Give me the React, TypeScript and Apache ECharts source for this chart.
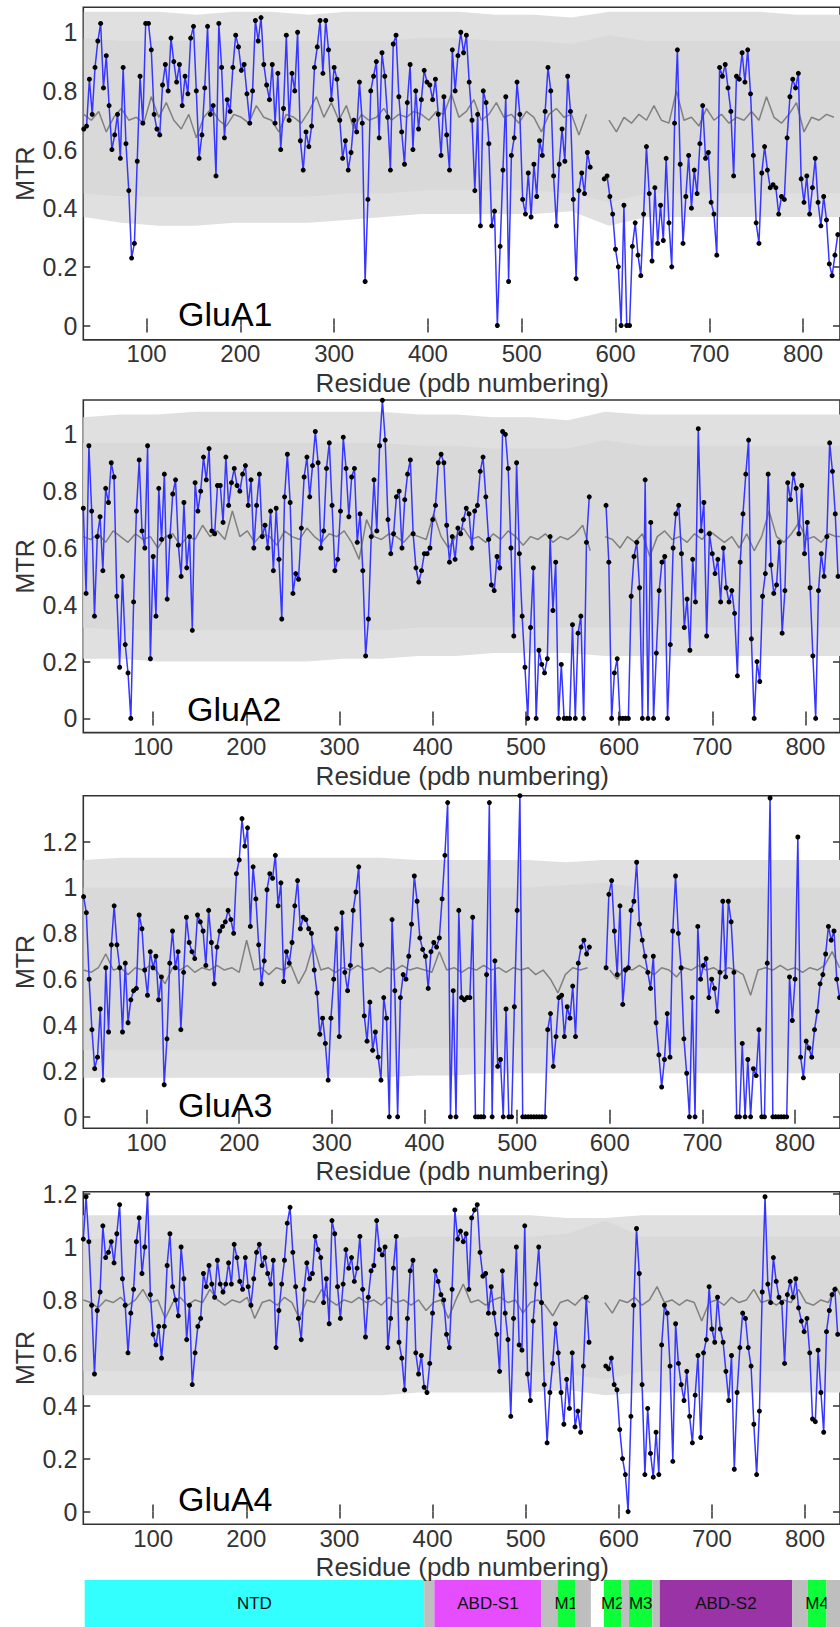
import React, { useEffect, useRef } from "react";
import * as echarts from "echarts";

// ---------- tick labels ----------
const X_TICKS = [100, 200, 300, 400, 500, 600, 700, 800];
const Y_TICKS_A = [0, 0.2, 0.4, 0.6, 0.8, 1];
const Y_TICKS_B = [0, 0.2, 0.4, 0.6, 0.8, 1, 1.2];

const PANEL_NAMES = ["GluA1", "GluA2", "GluA3", "GluA4"];
const X_TITLE = "Residue (pdb numbering)";
const Y_TITLE = "MTR";
const X_RANGES = [[32.5, 839.4], [25, 837.1], [31.7, 848.5], [25, 837.5]];
const Y_RANGES = [[-0.049, 1.085], [-0.05, 1.121], [-0.05, 1.4], [-0.048, 1.209]];

// ---------- MTR per residue (sampled every 3 residues) ----------
const MTR_START = [33, 25, 32, 25];
const MTR_STEP = 3;

const GLUA1_MTR = [
  0.67,0.68,0.84,0.72,0.88,0.97,1.03,0.81,0.92,0.75,
  0.6,0.65,0.72,0.57,0.88,0.62,0.46,0.23,0.28,0.56,
  0.85,0.69,1.03,1.03,0.94,0.72,0.67,0.65,0.82,0.89,
  0.8,0.98,0.9,0.83,0.89,0.75,0.85,0.79,0.98,1.02,
  0.8,0.57,0.65,0.81,1.02,0.72,0.75,0.51,1.03,0.88,
  0.64,0.77,0.73,0.88,0.99,0.95,0.87,0.89,0.79,0.69,
  0.8,1.04,0.97,1.05,0.89,0.82,0.77,0.89,0.69,0.86,
  0.6,0.74,0.99,0.7,0.86,0.8,1.0,0.63,0.53,0.66,
  0.61,0.68,0.88,0.95,1.04,0.86,1.04,0.94,0.77,0.88,
  0.84,0.7,0.57,0.63,0.53,0.59,0.7,0.66,0.83,0.69,
  0.15,0.43,0.8,0.85,0.9,0.64,0.93,0.85,0.71,0.53,
  0.96,0.99,0.78,0.66,0.55,0.76,0.89,0.6,0.8,0.67,
  0.77,0.87,0.83,0.82,0.77,0.84,0.72,0.58,0.78,0.65,
  0.53,0.94,0.8,0.92,1.0,0.93,0.99,0.83,0.7,0.46,
  0.72,0.34,0.8,0.76,0.62,0.34,0.39,0.0,0.27,0.53,
  0.78,0.15,0.58,0.64,0.83,0.72,0.43,0.38,0.52,0.37,
  0.55,0.44,0.63,0.58,0.73,0.88,0.8,0.51,0.34,0.55,
  0.67,0.56,0.85,0.73,0.43,0.16,0.46,0.52,0.45,0.59,
  0.54,null,null,null,null,0.5,0.51,0.44,0.38,0.26,
  0.2,0.0,0.41,0.0,0.0,0.27,0.35,0.24,0.17,0.38,
  0.61,0.45,0.22,0.47,0.28,0.41,0.29,0.57,0.35,0.2,
  0.69,0.94,0.55,0.28,0.44,0.58,0.4,0.53,0.45,0.62,
  0.75,0.57,0.59,0.42,0.38,0.24,0.88,0.85,0.89,0.81,
  0.73,0.51,0.85,0.84,0.93,0.83,0.94,0.79,0.58,0.35,
  0.28,0.52,0.61,0.53,0.47,0.48,0.47,0.38,0.44,0.43,
  0.64,0.78,0.84,0.81,0.86,0.5,0.42,0.51,0.38,0.47,
  0.57,0.42,0.34,0.44,0.36,0.21,0.17,0.24,0.31
];

const GLUA2_MTR = [
  0.74,0.44,0.96,0.73,0.36,0.64,0.71,0.52,0.81,0.76,
  0.9,0.85,0.43,0.18,0.5,0.26,0.16,0.0,0.41,0.73,
  0.91,0.66,0.6,0.96,0.21,0.57,0.36,0.81,0.63,0.86,
  0.42,0.64,0.79,0.84,0.61,0.5,0.76,0.53,0.64,0.31,
  0.83,0.73,0.8,0.92,0.84,0.95,0.66,0.65,0.82,0.82,
  0.69,0.92,0.75,0.83,0.88,0.82,0.8,0.86,0.89,0.75,
  0.84,0.6,0.75,0.86,0.64,0.68,0.6,0.73,0.52,0.74,
  0.56,0.35,0.78,0.93,0.76,0.44,0.51,0.49,0.67,0.85,
  0.92,0.78,0.89,1.01,0.9,0.6,0.66,0.88,0.97,0.75,
  0.52,0.56,0.73,0.99,0.88,0.71,0.85,0.88,0.62,0.72,
  0.52,0.22,0.35,0.64,0.84,0.66,0.96,1.12,0.98,0.7,
  0.58,0.65,0.78,0.8,0.6,0.77,0.86,0.91,0.65,0.53,
  0.48,0.52,0.58,0.58,0.6,0.7,0.75,0.9,0.93,0.9,
  0.68,0.55,0.64,0.56,0.67,0.65,0.7,0.74,0.72,0.6,
  0.73,0.75,0.87,0.92,0.78,0.63,0.47,0.45,0.57,0.53,
  1.01,1.0,0.88,0.6,0.29,0.9,0.58,0.36,0.18,0.0,
  0.32,0.53,0.0,0.24,0.19,0.16,0.21,0.64,0.38,0.55,
  0.0,0.19,0.0,0.0,0.0,0.33,0.0,0.3,0.36,0.0,
  0.62,0.78,null,null,null,null,null,0.75,0.55,0.0,
  0.16,0.21,0.0,0.0,0.0,0.0,0.43,0.57,0.62,0.46,
  0.0,0.84,0.0,0.69,0.0,0.23,0.45,0.55,0.57,0.0,
  0.26,0.6,0.72,0.75,0.58,0.32,0.42,0.24,0.56,0.41,
  1.02,0.66,0.76,0.29,0.65,0.58,0.51,0.56,0.41,0.6,
  0.46,0.41,0.45,0.37,0.15,0.55,0.72,0.86,0.98,0.28,
  0.0,0.2,0.13,0.43,0.51,0.86,0.54,0.44,0.47,0.62,
  0.3,0.45,0.83,0.77,0.86,0.81,0.65,0.82,0.58,0.69,
  0.46,0.22,0.0,0.45,0.58,0.5,0.64,0.97,0.87,0.72,0.5
];

const GLUA3_MTR = [
  0.96,0.89,0.6,0.38,0.21,0.26,0.47,0.16,0.65,0.37,
  0.75,0.92,0.75,0.65,0.37,0.67,0.41,0.51,0.55,0.56,
  0.88,0.82,0.64,0.53,0.72,0.65,0.7,0.51,0.61,0.14,
  0.34,0.67,0.81,0.65,0.72,0.38,0.63,0.87,0.76,0.72,
  0.69,0.88,0.85,0.81,0.66,0.9,0.76,0.58,0.74,0.81,
  0.83,0.85,0.9,0.86,0.8,1.06,1.12,1.3,1.18,1.26,
  0.83,1.09,0.95,0.75,0.58,0.68,0.99,1.06,1.04,1.14,
  0.92,1.02,0.59,0.72,0.67,0.76,0.92,1.03,0.82,0.87,
  0.86,0.82,0.8,0.64,0.54,0.36,0.43,0.32,0.16,0.43,
  0.6,0.82,0.35,0.89,0.63,0.55,0.66,0.9,0.98,1.09,
  0.75,0.44,0.33,0.5,0.29,0.37,0.26,0.16,0.52,0.43,
  0.0,0.86,0.55,0.0,0.52,0.62,0.6,0.7,0.84,1.05,
  0.94,0.78,0.73,0.7,0.56,0.72,0.76,0.74,0.78,0.95,
  1.14,1.37,0.0,0.55,0.0,0.9,0.52,0.51,0.52,0.52,
  0.87,0.0,0.0,0.0,0.0,0.62,1.37,0.0,0.68,0.22,
  0.25,0.0,0.47,0.0,0.0,0.48,0.9,1.4,0.0,0.0,
  0.0,0.0,0.0,0.0,0.0,0.0,0.0,0.38,0.45,0.22,
  0.35,0.52,0.53,0.35,0.48,0.43,0.57,0.35,0.67,0.74,
  0.77,0.71,0.74,null,null,null,null,null,0.65,0.97,
  1.03,0.81,0.62,0.92,0.49,0.64,0.65,0.9,0.94,1.11,
  0.84,0.77,0.7,0.63,0.56,0.7,0.41,0.27,0.13,0.25,
  0.45,0.26,0.81,1.05,0.8,0.65,0.34,0.19,0.0,0.52,
  0.0,0.83,0.6,0.66,0.69,0.52,0.6,0.56,0.46,0.63,
  0.94,0.61,0.94,0.85,0.63,0.0,0.0,0.32,0.0,0.25,
  0.0,0.21,0.18,0.38,0.0,0.0,0.67,1.39,0.0,0.0,
  0.0,0.0,0.0,0.0,0.61,0.42,0.6,1.22,0.26,0.17,
  0.33,0.3,0.26,0.38,0.46,0.58,0.62,0.71,0.83,0.77,0.81,0.6,0.52
];

const GLUA4_MTR = [
  1.03,1.19,1.02,0.78,0.52,0.76,0.83,1.08,0.96,0.98,
  1.02,0.94,1.05,1.16,0.88,0.78,0.6,0.75,0.84,1.02,
  1.11,0.9,1.0,1.2,0.82,0.67,0.63,0.7,0.58,0.7,
  0.93,1.05,0.85,0.8,0.74,1.0,0.88,0.65,0.78,0.48,
  0.6,0.7,0.73,0.9,0.85,0.93,0.86,0.81,0.95,0.86,
  0.83,0.86,0.94,0.86,1.01,0.96,0.87,0.84,0.96,0.85,
  0.78,0.88,0.98,1.01,0.93,0.96,0.9,0.86,0.95,0.62,
  0.76,0.86,0.95,1.09,1.15,0.98,0.85,0.73,0.65,0.84,
  0.94,0.88,0.9,1.04,0.99,0.96,0.79,0.88,0.71,1.1,
  1.05,0.85,0.73,0.86,0.99,0.92,0.96,0.87,0.92,1.04,
  0.84,0.66,0.81,0.91,0.93,1.1,0.99,0.97,1.0,0.62,
  0.73,0.92,1.04,0.64,0.58,0.46,0.73,0.91,0.95,0.6,
  0.52,0.59,0.47,0.45,0.56,0.75,0.91,0.87,0.82,0.8,
  0.67,0.62,0.84,1.14,1.03,1.06,1.02,1.05,0.84,1.11,
  1.14,1.16,0.98,0.89,0.9,0.75,0.85,0.75,0.67,0.53,
  0.91,0.75,0.65,0.36,0.73,1.0,0.63,0.61,1.08,0.52,
  0.42,0.72,0.86,1.0,0.79,0.48,0.26,0.45,0.56,0.71,
  0.6,0.45,0.33,0.5,0.39,0.6,0.32,0.38,0.3,0.55,
  0.81,0.64,null,null,null,null,null,0.55,0.54,0.58,
  0.48,0.46,0.31,0.2,0.14,0.0,0.36,0.78,1.07,0.9,
  0.48,0.14,0.39,0.22,0.13,0.3,0.14,0.63,0.78,0.75,
  0.55,0.19,0.71,0.56,0.48,0.42,0.53,0.36,0.26,0.44,
  0.59,0.28,0.6,0.65,0.85,0.69,0.64,0.81,0.69,0.64,
  0.53,0.42,0.59,0.16,0.45,0.62,0.75,0.73,0.62,0.55,
  0.33,0.14,0.38,0.83,1.19,0.86,0.79,0.96,0.87,0.81,
  0.79,0.56,0.82,0.87,0.81,0.88,0.77,0.72,0.68,0.73,
  0.6,0.35,0.34,0.61,0.45,0.3,0.68,0.76,0.82,0.84,0.67
];

// ---------- mean of random MTR (sampled every 8 residues) ----------
const MEAN_START = [33, 25, 32, 25];
const MEAN_STEP = 8;

const GLUA1_MEAN = [
  0.72,0.70,0.73,0.66,0.71,0.74,0.70,0.71,0.69,0.78,
  0.71,0.76,0.70,0.67,0.72,0.64,0.71,0.74,0.70,0.68,
  0.72,0.71,0.69,0.75,0.71,0.70,0.66,0.72,0.71,0.69,
  0.73,0.78,0.71,0.76,0.70,0.75,0.67,0.72,0.70,0.71,
  0.74,0.70,0.72,0.71,0.73,0.72,0.70,0.73,0.72,0.79,
  0.71,0.73,0.77,0.70,0.72,0.76,0.71,0.72,0.69,0.73,
  0.71,0.66,0.72,0.74,0.71,0.72,0.65,0.72,null,null,
  0.70,0.66,0.71,0.69,0.72,0.70,0.75,0.70,0.69,0.80,
  0.70,0.71,0.68,0.74,0.70,0.72,0.69,0.71,0.70,0.73,
  0.70,0.78,0.71,0.69,0.72,0.76,0.66,0.71,0.70,0.72,
  0.71
];
const GLUA2_MEAN = [
  0.64,0.63,0.65,0.62,0.66,0.64,0.62,0.65,0.63,0.64,
  0.60,0.64,0.65,0.61,0.64,0.63,0.68,0.64,0.66,0.63,
  0.73,0.64,0.66,0.62,0.65,0.64,0.61,0.66,0.64,0.63,
  0.67,0.64,0.62,0.65,0.64,0.66,0.62,0.56,0.70,0.64,
  0.63,0.65,0.64,0.62,0.65,0.64,0.63,0.72,0.64,0.60,
  0.64,0.67,0.63,0.64,0.62,0.65,0.63,0.66,0.64,0.61,
  0.64,0.63,0.65,0.62,0.64,0.63,0.65,0.68,0.59,null,
  0.64,0.63,0.60,0.64,0.62,0.65,0.57,0.64,0.66,0.63,
  0.64,0.62,0.65,0.63,0.66,0.64,0.62,0.64,0.60,0.65,
  0.59,0.64,0.73,0.64,0.62,0.65,0.69,0.63,0.64,0.62,
  0.65,0.64,0.64
];
const GLUA3_MEAN = [
  0.64,0.63,0.65,0.71,0.64,0.65,0.62,0.65,0.64,0.66,
  0.63,0.58,0.65,0.64,0.66,0.63,0.65,0.64,0.66,0.64,
  0.65,0.63,0.77,0.64,0.65,0.62,0.65,0.64,0.66,0.58,
  0.64,0.75,0.64,0.65,0.63,0.65,0.64,0.66,0.64,0.65,
  0.63,0.65,0.64,0.66,0.64,0.65,0.64,0.63,0.72,0.64,
  0.65,0.63,0.65,0.64,0.66,0.64,0.65,0.63,0.65,0.64,
  0.65,0.62,0.64,0.60,0.54,0.62,0.65,0.64,0.65,null,
  null,0.64,0.60,0.65,0.64,0.66,0.64,0.62,0.65,0.64,
  0.61,0.65,0.64,0.66,0.64,0.65,0.63,0.65,0.64,0.62,
  0.53,0.64,0.65,0.64,0.66,0.64,0.65,0.63,0.65,0.64,
  0.66,0.72,0.65
];
const GLUA4_MEAN = [
  0.80,0.79,0.77,0.80,0.79,0.81,0.78,0.80,0.84,0.79,
  0.80,0.73,0.79,0.81,0.78,0.80,0.79,0.84,0.80,0.78,
  0.80,0.79,0.81,0.73,0.79,0.80,0.78,0.81,0.79,0.73,
  0.80,0.79,0.84,0.80,0.78,0.80,0.79,0.81,0.79,0.80,
  0.78,0.81,0.79,0.80,0.78,0.80,0.76,0.79,0.80,0.73,
  0.80,0.86,0.79,0.80,0.78,0.80,0.81,0.79,0.80,0.75,
  0.79,0.80,0.78,0.74,0.79,0.80,0.78,0.81,0.79,null,
  0.79,0.75,0.80,0.79,0.81,0.78,0.80,0.85,0.79,0.80,
  0.78,0.80,0.79,0.72,0.79,0.80,0.78,0.81,0.79,0.80,
  0.84,0.79,0.80,0.78,0.80,0.79,0.84,0.79,0.78,0.80,
  0.79,0.85,0.80
];

// ---------- confidence band (sampled every 40 residues) ----------
const BAND_START = [33, 25, 32, 25];
const BAND_STEP = 40;

const GLUA1_HI_OUT = [1.07,1.07,1.07,1.06,1.07,1.07,1.06,1.07,1.07,1.07,1.07,1.06,1.06,1.05,1.07,1.07,1.07,1.07,1.07,1.06,1.06,1.06];
const GLUA1_HI_IN  = [0.98,0.97,0.97,0.97,0.97,0.97,0.97,0.97,0.97,0.98,0.98,0.97,0.97,0.96,0.99,0.97,0.97,0.97,0.97,0.97,0.97,0.97];
const GLUA1_LO_IN  = [0.45,0.44,0.44,0.44,0.44,0.44,0.44,0.45,0.45,0.46,0.46,0.46,0.46,0.45,0.42,0.45,0.45,0.45,0.45,0.45,0.45,0.45];
const GLUA1_LO_OUT = [0.37,0.35,0.34,0.34,0.35,0.35,0.35,0.36,0.37,0.38,0.38,0.38,0.38,0.39,0.34,0.37,0.37,0.37,0.37,0.37,0.37,0.37];

const GLUA2_HI_OUT = [1.06,1.07,1.07,1.08,1.08,1.08,1.08,1.08,1.08,1.07,1.07,1.06,1.06,1.05,1.08,1.07,1.07,1.07,1.07,1.07,1.07,1.07];
const GLUA2_HI_IN  = [0.97,0.97,0.97,0.97,0.97,0.97,0.97,0.97,0.97,0.96,0.96,0.95,0.95,0.95,0.98,0.96,0.96,0.96,0.96,0.96,0.96,0.96];
const GLUA2_LO_IN  = [0.32,0.31,0.31,0.31,0.31,0.31,0.31,0.31,0.31,0.32,0.32,0.32,0.32,0.32,0.32,0.32,0.32,0.32,0.32,0.32,0.32,0.32];
const GLUA2_LO_OUT = [0.21,0.21,0.2,0.2,0.2,0.2,0.2,0.21,0.21,0.22,0.22,0.23,0.23,0.23,0.22,0.22,0.22,0.22,0.22,0.22,0.22,0.22];

const GLUA3_HI_OUT = [1.12,1.13,1.13,1.13,1.13,1.13,1.13,1.13,1.13,1.12,1.12,1.12,1.12,1.11,1.12,1.12,1.12,1.12,1.12,1.12,1.12,1.12];
const GLUA3_HI_IN  = [1.0,1.0,1.0,1.0,1.0,1.0,1.0,1.0,1.0,1.0,1.0,1.0,1.0,1.01,1.02,1.0,1.0,1.0,1.0,1.0,1.0,1.0];
const GLUA3_LO_IN  = [0.29,0.29,0.29,0.29,0.29,0.29,0.29,0.29,0.29,0.3,0.3,0.3,0.3,0.3,0.3,0.3,0.3,0.3,0.3,0.3,0.3,0.3];
const GLUA3_LO_OUT = [0.17,0.17,0.17,0.17,0.17,0.17,0.17,0.17,0.17,0.18,0.18,0.19,0.19,0.19,0.19,0.19,0.19,0.19,0.19,0.19,0.19,0.19];

const GLUA4_HI_OUT = [1.12,1.12,1.12,1.12,1.12,1.12,1.12,1.12,1.12,1.12,1.12,1.12,1.12,1.11,1.11,1.12,1.12,1.12,1.12,1.12,1.12,1.12];
const GLUA4_HI_IN  = [1.03,1.03,1.03,1.03,1.03,1.03,1.03,1.03,1.03,1.04,1.04,1.04,1.04,1.05,1.1,1.04,1.04,1.04,1.04,1.04,1.04,1.04];
const GLUA4_LO_IN  = [0.53,0.53,0.53,0.53,0.53,0.53,0.53,0.53,0.53,0.53,0.53,0.53,0.53,0.52,0.5,0.53,0.53,0.53,0.53,0.53,0.53,0.53];
const GLUA4_LO_OUT = [0.44,0.44,0.44,0.44,0.44,0.44,0.44,0.44,0.44,0.45,0.45,0.45,0.45,0.46,0.44,0.45,0.45,0.45,0.45,0.45,0.45,0.45];

// ---------- domain map (residues) ----------
const DOMAIN_START = [26.5, 391, 402, 517, 534, 553, 584, 603, 611, 636, 644, 786, 803, 823];
const DOMAIN_END   = [391, 402, 517, 534, 553, 570, 603, 611, 636, 644, 786, 803, 823, 870];
const DOMAIN_LABEL = ["NTD", "", "ABD-S1", "", "M1", "", "M2", "", "M3", "", "ABD-S2", "", "M4", ""];
const DOMAIN_COLOR = ["#33ffff", "#bebebe", "#e64dff", "#bebebe", "#0dff3a", "#bebebe", "#0dff3a", "#bebebe", "#0dff3a", "#bebebe", "#9933a6", "#bebebe", "#0dff3a", "#bebebe"];

// ---------- layout / style ----------
const FONT = "'Liberation Sans', Arial, Helvetica, sans-serif";
const AXIS_COLOR = "#333333";
const GRID_LEFT = 83.3;
const GRID_WIDTH = 758;
const GRID_HEIGHT = 332.6;
const GRID_TOPS = [7.3, 400, 795.7, 1191.7];
const LABEL_POS = [[178, 313.5], [187, 708.5], [178, 1105], [178, 1499]];
const X_TITLE_OFFSET = 43;
const Y_TITLE_X = 25;
const DOMAIN_TOP = 1580;
const DOMAIN_HEIGHT = 60;
const BAND_SOLID = "#d9d9d9";
const BAND_FUZZ = "#e0e0e0";

const PANELS = [
  { mtr: GLUA1_MTR, mean: GLUA1_MEAN, hiOut: GLUA1_HI_OUT, hiIn: GLUA1_HI_IN, loIn: GLUA1_LO_IN, loOut: GLUA1_LO_OUT },
  { mtr: GLUA2_MTR, mean: GLUA2_MEAN, hiOut: GLUA2_HI_OUT, hiIn: GLUA2_HI_IN, loIn: GLUA2_LO_IN, loOut: GLUA2_LO_OUT },
  { mtr: GLUA3_MTR, mean: GLUA3_MEAN, hiOut: GLUA3_HI_OUT, hiIn: GLUA3_HI_IN, loIn: GLUA3_LO_IN, loOut: GLUA3_LO_OUT },
  { mtr: GLUA4_MTR, mean: GLUA4_MEAN, hiOut: GLUA4_HI_OUT, hiIn: GLUA4_HI_IN, loIn: GLUA4_LO_IN, loOut: GLUA4_LO_OUT },
];

function buildOption() {
  const grid: any[] = [];
  const xAxis: any[] = [];
  const yAxis: any[] = [];
  const series: any[] = [];
  const graphic: any[] = [];
  const tickStyle = { color: AXIS_COLOR, width: 1.5 };

  PANELS.forEach((p, i) => {
    const [xmin, xmax] = X_RANGES[i];
    const [ymin, ymax] = Y_RANGES[i];
    const yTicks = i >= 2 ? Y_TICKS_B : Y_TICKS_A;
    grid.push({
      left: GRID_LEFT, top: GRID_TOPS[i], width: GRID_WIDTH, height: GRID_HEIGHT,
      show: true, borderColor: AXIS_COLOR, borderWidth: 1.6, backgroundColor: "transparent",
    });
    xAxis.push({
      type: "value", gridIndex: i, position: "bottom", min: xmin, max: xmax,
      axisLine: { show: false }, splitLine: { show: false },
      axisTick: { inside: true, length: 7, lineStyle: tickStyle, customValues: X_TICKS },
      axisLabel: {
        customValues: X_TICKS, fontSize: 24, color: AXIS_COLOR, margin: 14, fontFamily: FONT,
        verticalAlign: "middle",
      },
    });
    xAxis.push({
      type: "value", gridIndex: i, position: "top", min: xmin, max: xmax,
      axisLine: { show: false }, splitLine: { show: false }, axisLabel: { show: false },
      axisTick: { inside: true, length: 7, lineStyle: tickStyle, customValues: X_TICKS },
    });
    yAxis.push({
      type: "value", gridIndex: i, position: "left", min: ymin, max: ymax,
      axisLine: { show: false }, splitLine: { show: false },
      axisTick: { inside: true, length: 7, lineStyle: tickStyle, customValues: yTicks },
      axisLabel: { customValues: yTicks, fontSize: 25, color: AXIS_COLOR, margin: 6, fontFamily: FONT },
    });
    yAxis.push({
      type: "value", gridIndex: i, position: "right", min: ymin, max: ymax,
      axisLine: { show: false }, splitLine: { show: false }, axisLabel: { show: false },
      axisTick: { inside: true, length: 7, lineStyle: tickStyle, customValues: yTicks },
    });

    // axis titles and panel label
    const bottom = GRID_TOPS[i] + GRID_HEIGHT;
    graphic.push({
      type: "text", x: GRID_LEFT + GRID_WIDTH / 2, y: bottom + X_TITLE_OFFSET, z: 10,
      style: { text: X_TITLE, fontSize: 26, fontFamily: FONT, fill: AXIS_COLOR, align: "center", verticalAlign: "middle" },
    });
    graphic.push({
      type: "text", x: Y_TITLE_X, y: GRID_TOPS[i] + GRID_HEIGHT / 2, rotation: Math.PI / 2, z: 10,
      style: { text: Y_TITLE, fontSize: 25, fontFamily: FONT, fill: AXIS_COLOR, align: "center", verticalAlign: "middle" },
    });
    graphic.push({
      type: "text", x: LABEL_POS[i][0], y: LABEL_POS[i][1], z: 10,
      style: { text: PANEL_NAMES[i], fontSize: 34, fontFamily: FONT, fill: "#000000", align: "left", verticalAlign: "middle" },
    });

    const axisRef = { xAxisIndex: 2 * i, yAxisIndex: 2 * i };
    const bx = (k: number) => BAND_START[i] + BAND_STEP * k;

    // confidence band: outer (fuzzy) polygon, then solid inner polygon
    series.push({
      type: "custom", ...axisRef, z: 1, silent: true,
      data: [[BAND_START[i], 0.5]],
      encode: { x: 0, y: 1 },
      renderItem: (_params: any, api: any) => {
        const poly = (upper: number[], lower: number[]) => {
          const top = upper.map((v, k) => api.coord([bx(k), v]));
          const bot = lower.map((v, k) => api.coord([bx(k), v])).reverse();
          return top.concat(bot);
        };
        return {
          type: "group",
          children: [
            { type: "polygon", shape: { points: poly(p.hiOut, p.loOut) }, style: { fill: BAND_FUZZ } },
            { type: "polygon", shape: { points: poly(p.hiIn, p.loIn) }, style: { fill: BAND_SOLID } },
          ],
        };
      },
    });
    series.push({
      type: "line", ...axisRef, z: 2, symbol: "none", silent: true, connectNulls: false,
      data: p.mean.map((v, k) => [MEAN_START[i] + MEAN_STEP * k, v]),
      lineStyle: { color: "#808080", width: 1.5 },
    });
    series.push({
      type: "line", ...axisRef, z: 3, symbol: "circle", symbolSize: 5, showAllSymbol: true, connectNulls: false,
      data: p.mtr.map((v, k) => [MTR_START[i] + MTR_STEP * k, v]),
      itemStyle: { color: "#000000" },
      lineStyle: { color: "#3636ff", width: 1.5 },
    });
  });

  // domain bar grid
  grid.push({ left: GRID_LEFT, top: DOMAIN_TOP, width: GRID_WIDTH, height: DOMAIN_HEIGHT });
  xAxis.push({ type: "value", gridIndex: 4, min: 25, max: 837.5, show: false });
  yAxis.push({ type: "value", gridIndex: 4, min: 0, max: 1, show: false });
  series.push({
    type: "custom", xAxisIndex: 8, yAxisIndex: 8, silent: true,
    data: DOMAIN_START.map((s, k) => [s, DOMAIN_END[k]]),
    encode: { x: [0, 1] },
    renderItem: (params: any, api: any) => {
      const k = params.dataIndex;
      const p0 = api.coord([api.value(0), 1]);
      const p1 = api.coord([api.value(1), 0]);
      const children: any[] = [
        { type: "rect", shape: { x: p0[0], y: p0[1], width: p1[0] - p0[0], height: p1[1] - p0[1] }, style: { fill: DOMAIN_COLOR[k] } },
      ];
      if (DOMAIN_LABEL[k]) {
        children.push({
          type: "text",
          style: {
            text: DOMAIN_LABEL[k], x: (p0[0] + p1[0]) / 2, y: (p0[1] + p1[1]) / 2,
            align: "center", verticalAlign: "middle", fill: "#111111", fontSize: 17, fontFamily: FONT,
          },
        });
      }
      return { type: "group", children };
    },
  });

  return {
    animation: false,
    backgroundColor: "#ffffff",
    textStyle: { fontFamily: FONT },
    grid, xAxis, yAxis, series, graphic,
  };
}

export default function App() {
  const ref = useRef<HTMLDivElement>(null);
  useEffect(() => {
    if (!ref.current) return;
    const chart = echarts.init(ref.current, undefined, { renderer: "svg", width: 840, height: 1627 });
    chart.setOption(buildOption() as any);
    return () => chart.dispose();
  }, []);
  return (
    <div
      ref={ref}
      style={{ position: "absolute", left: 0, top: 0, width: 840, height: 1627, overflow: "hidden", background: "#fff" }}
    />
  );
}
